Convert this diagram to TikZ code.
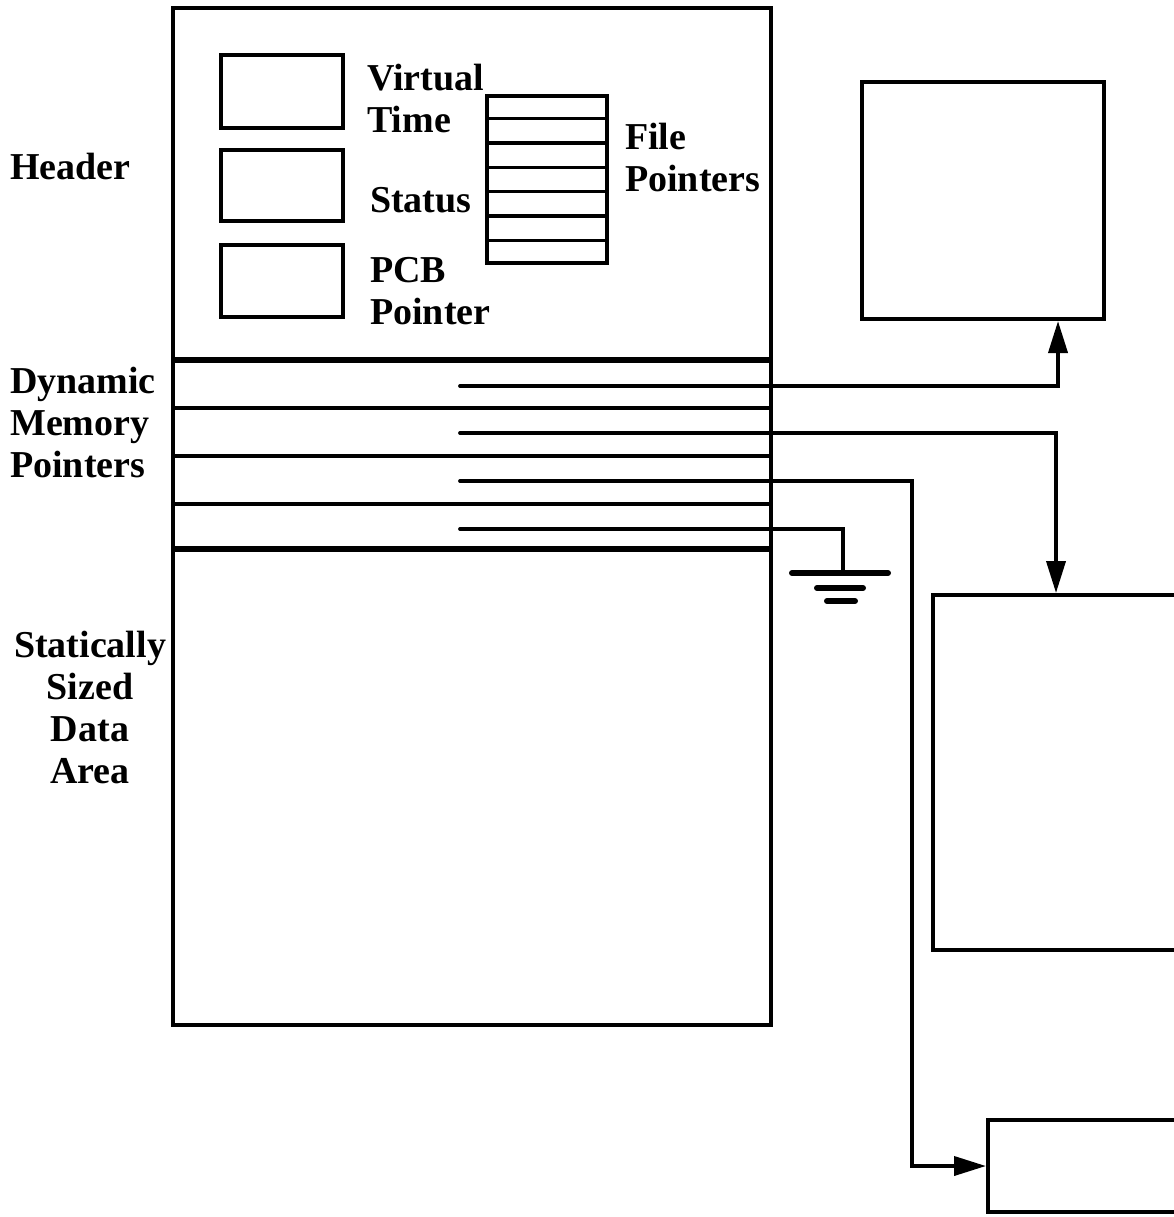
\documentclass[tikz,border=0pt]{standalone}
\usepackage{fontspec}
\setmainfont{Liberation Serif}
\usetikzlibrary{arrows.meta,calc}
\begin{document}
\begin{tikzpicture}[x=1pt,y=-1pt,
  blk/.style={draw,line width=4pt,inner sep=0pt,rectangle},
  small/.style={draw,line width=3.6pt,inner sep=0pt,rectangle},
  sep/.style={line width=3.6pt},
  thicksep/.style={line width=6pt},
  ptr/.style={line width=3.8pt},
  tip/.style={-{Triangle[length=32pt,width=19pt]}},
  lbl/.style={font=\fontsize{38}{42}\selectfont\bfseries,inner sep=0pt,align=left},
  lblc/.style={font=\fontsize{38}{42}\selectfont\bfseries,inner sep=0pt,align=center}]
\useasboundingbox (0,0) rectangle (1174,1217);
\clip (0,0) rectangle (1174,1217);
% main box
\node[blk,minimum width=598pt,minimum height=1017pt] (main) at (472,516.5) {};
% header boxes
\node[small,minimum width=122pt,minimum height=73pt] (vt) at (282,91.5) {};
\node[small,minimum width=122pt,minimum height=71pt] (st) at (282,185.5) {};
\node[small,minimum width=122pt,minimum height=72pt] (pcb) at (282,281) {};
\node[small,minimum width=120pt,minimum height=167pt] (fp) at (547,179.5) {};
\foreach \k in {1,...,6}{
  \draw[line width=3.6pt] ($(fp.north west)!\k/7!(fp.south west)$) -- ($(fp.north east)!\k/7!(fp.south east)$);
}
% labels
\node[lbl,anchor=west] (lvt) at (367,98) {Virtual\\Time};
\node[lbl,anchor=west] (lst) at (370,200) {Status};
\node[lbl,anchor=west] (lpcb) at (370,291) {PCB\\Pointer};
\node[lbl,anchor=west] (lfp) at (625,158) {File\\Pointers};
\node[lbl,anchor=west] (lh) at (10,167) {Header};
\node[lbl,anchor=west] (ld) at (10,422) {Dynamic\\Memory\\Pointers};
\node[lblc] (ls) at (90,707) {Statically\\Sized\\Data\\Area};
% dynamic memory section lines
\draw[thicksep] (173,360) -- (771,360);
\draw[sep] (173,408) -- (771,408);
\draw[sep] (173,456) -- (771,456);
\draw[sep] (173,504) -- (771,504);
\draw[thicksep] (173,549) -- (771,549);
% target boxes
\node[blk,minimum width=242pt,minimum height=237pt] (b1) at (983,200.5) {};
\node[blk,minimum width=267pt,minimum height=355pt] (b2) at (1066.5,772.5) {};
\node[blk,minimum width=212pt,minimum height=92pt] (b3) at (1094,1166) {};
% pointer origins
\coordinate (p1) at (460,386);
\coordinate (p2) at (460,433);
\coordinate (p3) at (460,481);
\coordinate (p4) at (460,529);
\coordinate (t1) at ([xshift=75pt]b1.south);
\coordinate (t2) at ([xshift=125pt]b2.north west);
\coordinate (t3) at (912,1166);
\coordinate (g) at (843,573);
\draw[ptr,tip,line cap=round] (p1) -| (t1);
\draw[ptr,tip,line cap=round] (p2) -| (t2);
\draw[ptr,tip,line cap=round] (p3) -| (t3) -- (b3.west);
\draw[ptr,line cap=round] (p4) -| (g);
% ground
\draw[line width=6pt,line cap=round] ($(g)+(-51,0)$) -- ($(g)+(45,0)$);
\draw[line width=6pt,line cap=round] ($(g)+(-26,15)$) -- ($(g)+(20,15)$);
\draw[line width=6pt,line cap=round] ($(g)+(-16,28)$) -- ($(g)+(12,28)$);
\end{tikzpicture}
\end{document}
